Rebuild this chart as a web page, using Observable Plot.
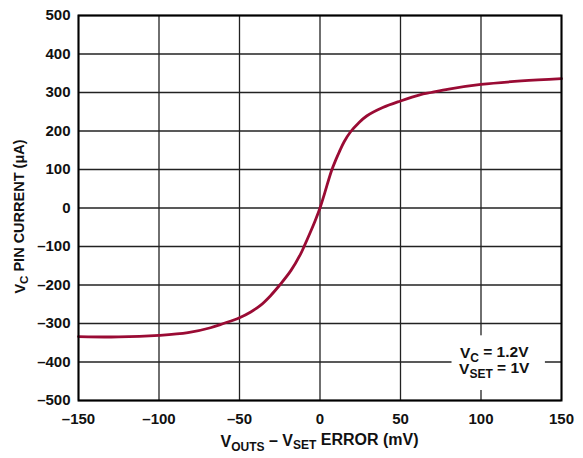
<!DOCTYPE html>
<html>
<head>
<meta charset="utf-8">
<script src="https://cdn.jsdelivr.net/npm/d3@7"></script>
<script src="https://cdn.jsdelivr.net/npm/@observablehq/plot@0.6"></script>
<style>
  html, body { margin: 0; padding: 0; background: #fff; }
  svg { display: block; }
</style>
</head>
<body>
<div id="chart"></div>
<script>
// Curve: VOUTS − VSET error (mV) vs VC pin current (µA)
const errorMv = [-150, -125, -100, -82, -68, -60, -50, -43, -37, -31, -25, -18, -12, -10, -6, -3, 0, 3, 7, 10, 12, 15, 19, 24, 29, 39, 50, 62, 69, 80, 100, 125, 150];
const currentUa = [-334, -335, -331, -324, -311, -300, -285, -270, -253, -229, -200, -162, -119, -101, -63, -33, 0, 40, 95, 127, 146, 172, 198, 221, 239, 261, 278, 294, 300, 309, 321, 330, 336];

const xTicks = [-150, -100, -50, 0, 50, 100, 150];
const yTicks = [-500, -400, -300, -200, -100, 0, 100, 200, 300, 400, 500];

// annotation box extent (data units) and its text
const noteBoxX = [82, 140];
const noteBoxY = [-474, -332];
const noteLines = [["V", "C", " = 1.2V"], ["V", "SET", " = 1V"]];

const data = errorMv.map((x, i) => ({x, y: currentUa[i]}));
const fmt = d => d < 0 ? "\u2013" + Math.abs(d) : String(d);

const font = "'Liberation Sans', Arial, Helvetica, sans-serif";

const plot = Plot.plot({
  width: 583,
  height: 458,
  marginLeft: 78,
  marginRight: 22,
  marginTop: 15,
  marginBottom: 58,
  style: {fontFamily: font, background: "#fff"},
  x: {domain: [-150, 150]},
  y: {domain: [-500, 500]},
  marks: [
    Plot.gridX(xTicks, {stroke: "#222", strokeOpacity: 1, strokeWidth: 1.3}),
    Plot.gridY(yTicks, {stroke: "#222", strokeOpacity: 1, strokeWidth: 1.3}),
    Plot.rect([{x1: noteBoxX[0], x2: noteBoxX[1], y1: noteBoxY[0], y2: noteBoxY[1]}], {x1: "x1", x2: "x2", y1: "y1", y2: "y2", fill: "white"}),
    Plot.line(data, {x: "x", y: "y", stroke: "#9a0b34", strokeWidth: 2.8, curve: "catmull-rom"}),
    Plot.axisX(xTicks, {tickSize: 0, tickPadding: 13, tickFormat: fmt, fontSize: 15, fontWeight: "bold", fill: "#111", label: null}),
    Plot.axisY(yTicks, {tickSize: 0, tickPadding: 8, tickFormat: fmt, fontSize: 15, fontWeight: "bold", fill: "#111", label: null}),
    Plot.frame({stroke: "#000", strokeWidth: 2})
  ]
});

document.getElementById("chart").appendChild(plot);

const svg = d3.select(plot);
const xs = plot.scale("x"), ys = plot.scale("y");

// x axis label
const xl = svg.append("text")
  .attr("x", xs.apply(0))
  .attr("y", 447)
  .attr("text-anchor", "middle")
  .attr("font-family", font)
  .attr("font-weight", "bold")
  .attr("font-size", 16)
  .attr("fill", "#111");
xl.append("tspan").text("V");
xl.append("tspan").text("OUTS").attr("font-size", 12).attr("dy", "0.3em");
xl.append("tspan").text(" \u2013 V").attr("dy", "-0.3em");
xl.append("tspan").text("SET").attr("font-size", 12).attr("dy", "0.3em");
xl.append("tspan").text(" ERROR (mV)").attr("dy", "-0.3em");

// y axis label
const yl = svg.append("text")
  .attr("transform", `translate(25,${ys.apply(0) + 9}) rotate(-90)`)
  .attr("text-anchor", "middle")
  .attr("font-family", font)
  .attr("font-weight", "bold")
  .attr("font-size", 14.5)
  .attr("fill", "#111");
yl.append("tspan").text("V");
yl.append("tspan").text("C").attr("font-size", 11.5).attr("dy", "0.3em");
yl.append("tspan").text(" PIN CURRENT (\u03bcA)").attr("dy", "-0.3em");

// annotation text
const cx = (xs.apply(noteBoxX[0]) + xs.apply(noteBoxX[1])) / 2;
noteLines.forEach((parts, i) => {
  const t = svg.append("text")
    .attr("x", cx - 4)
    .attr("y", 358 + i * 16)
    .attr("text-anchor", "middle")
    .attr("font-family", font)
    .attr("font-weight", "bold")
    .attr("font-size", 15.5)
    .attr("fill", "#111");
  t.append("tspan").text(parts[0]);
  t.append("tspan").text(parts[1]).attr("font-size", 12).attr("dy", "0.3em");
  t.append("tspan").text(parts[2]).attr("dy", "-0.3em");
});
</script>
</body>
</html>
